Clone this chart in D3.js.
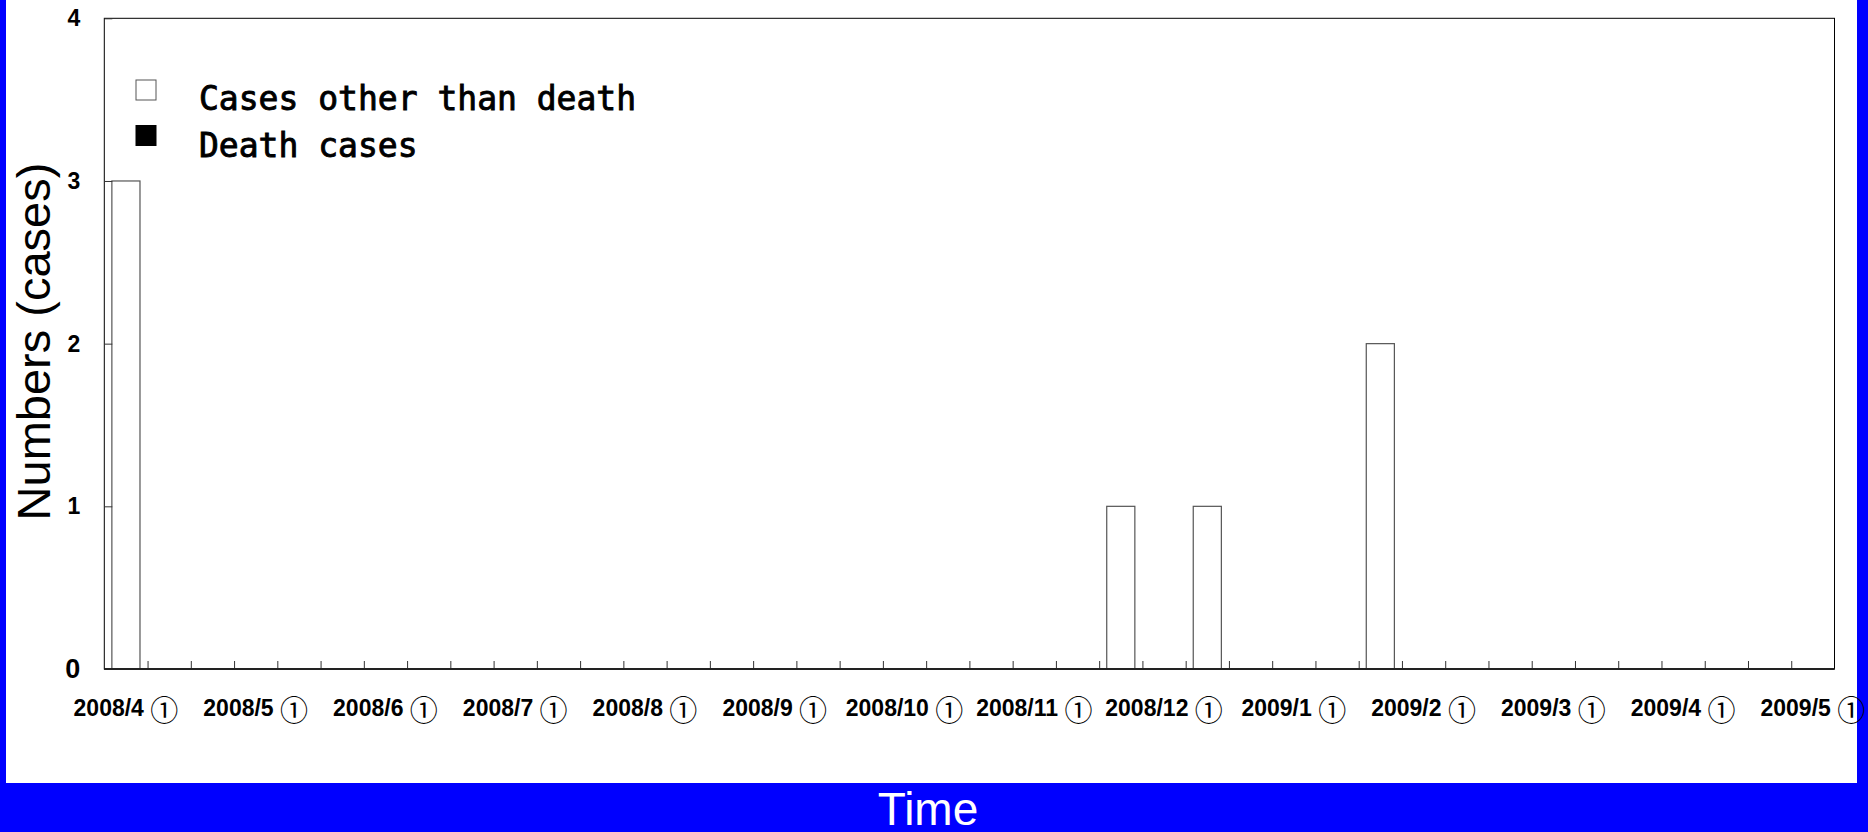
<!DOCTYPE html>
<html>
<head>
<meta charset="utf-8">
<script src="https://cdn.jsdelivr.net/npm/d3@7"></script>
<style>
  html, body { margin: 0; padding: 0; background: #0000ff; }
  svg { display: block; }
</style>
</head>
<body>
<svg id="chart" width="1868" height="832"></svg>
<script>
// Monthly periods (① early, ② middle, ③ late) from 2008/4 to 2009/5
const months = ["2008/4", "2008/5", "2008/6", "2008/7", "2008/8", "2008/9", "2008/10",
    "2008/11", "2008/12", "2009/1", "2009/2", "2009/3", "2009/4", "2009/5"];
const periods = ["①", "②", "③"];
const categories = months.flatMap(m => periods.map(p => `${m} ${p}`)).slice(0, 40);

const otherCases = [3, 0, 0, 0, 0, 0, 0, 0, 0, 0, 0, 0, 0, 0, 0, 0, 0, 0, 0, 0,
    0, 0, 0, 1, 0, 1, 0, 0, 0, 2, 0, 0, 0, 0, 0, 0, 0, 0, 0, 0];
const deathCases = [0, 0, 0, 0, 0, 0, 0, 0, 0, 0, 0, 0, 0, 0, 0, 0, 0, 0, 0, 0,
    0, 0, 0, 0, 0, 0, 0, 0, 0, 0, 0, 0, 0, 0, 0, 0, 0, 0, 0, 0];
const yTicks = [0, 1, 2, 3, 4];
const legendLabels = ["Cases other than death", "Death cases"];

const W = 1868, H = 832;
const margin = { top: 18.3, right: 33.5, bottom: 163, left: 104.3 };
const width = W - margin.left - margin.right;
const height = H - margin.top - margin.bottom;

const svg = d3.select("#chart");

// blue frame with white page
svg.append("rect").attr("width", W).attr("height", H).attr("fill", "#0000ff");
svg.append("rect").attr("x", 6).attr("y", 0).attr("width", 1851).attr("height", 783).attr("fill", "#fff");

const g = svg.append("g").attr("transform", `translate(${margin.left},${margin.top})`);

const x = d3.scaleBand().domain(categories).range([0, width]).paddingInner(0.35).paddingOuter(0.175);
const xEdge = d3.scaleLinear().domain([0, categories.length]).range([0, width]);
const y = d3.scaleLinear().domain([0, 4]).range([height, 0]);

const rows = categories.map((c, i) => ({ cat: c, death: deathCases[i], other: otherCases[i] }));

// plot frame
g.append("rect").attr("width", width).attr("height", height)
    .attr("fill", "none").attr("stroke", "#000").attr("stroke-width", 1);

// death cases (black, bottom)
g.selectAll(".bar-death").data(rows.filter(d => d.death > 0)).join("rect")
    .attr("class", "bar-death")
    .attr("x", d => x(d.cat)).attr("width", x.bandwidth())
    .attr("y", d => y(d.death)).attr("height", d => y(0) - y(d.death))
    .attr("fill", "#000");

// other cases (white, stacked on top)
g.selectAll(".bar-other").data(rows.filter(d => d.other > 0)).join("rect")
    .attr("class", "bar-other")
    .attr("x", d => x(d.cat)).attr("width", x.bandwidth())
    .attr("y", d => y(d.death + d.other)).attr("height", d => y(d.death) - y(d.death + d.other))
    .attr("fill", "#fff").attr("stroke", "#555").attr("stroke-width", 1.2);

// y axis
const yAxis = g.append("g")
    .call(d3.axisLeft(y).tickValues(yTicks).tickSize(-8).tickPadding(24).tickFormat(d3.format("d")));
yAxis.select(".domain").remove();
yAxis.selectAll("line").attr("stroke", "#333");
yAxis.selectAll("text")
    .attr("font-family", "Liberation Sans, Arial, sans-serif")
    .attr("font-weight", "bold")
    .attr("font-size", d => d === 0 ? 27 : 23)
    .attr("fill", "#000");

// x tick marks at category edges
const xTickAxis = g.append("g").attr("transform", `translate(0,${height})`)
    .call(d3.axisBottom(xEdge).tickValues(d3.range(1, categories.length)).tickSize(-8).tickFormat(""));
xTickAxis.select(".domain").remove();
xTickAxis.selectAll("line").attr("stroke", "#333");

// baseline
g.append("line").attr("x1", 0).attr("x2", width).attr("y1", height).attr("y2", height)
    .attr("stroke", "#222").attr("stroke-width", 2);

// x labels only for the first period of each month
const xLabelAxis = g.append("g").attr("transform", `translate(0,${height})`)
    .call(d3.axisBottom(x).tickValues(categories.filter(c => c.endsWith("①"))).tickSize(0));
xLabelAxis.select(".domain").remove();
xLabelAxis.selectAll("text").each(function (d) {
    const t = d3.select(this).text("").attr("y", 47).attr("dy", null).attr("fill", "#000");
    const [m, p] = d.split(" ");
    t.append("tspan").text(m + " ")
        .attr("font-family", "Liberation Sans, Arial, sans-serif")
        .attr("font-weight", "bold").attr("font-size", 23);
    t.append("tspan").text(p).attr("dy", 5)
        .attr("font-family", "Noto Sans CJK JP, DejaVu Sans, sans-serif")
        .attr("font-weight", "normal").attr("font-size", 28);
});

// legend
const legend = g.append("g");
const legendFill = ["#fff", "#000"];
legendLabels.forEach((lab, i) => {
    legend.append("rect")
        .attr("x", 136 - margin.left).attr("y", 80 + i * 45.5 - margin.top)
        .attr("width", 20).attr("height", 20)
        .attr("fill", legendFill[i]).attr("stroke", i === 0 ? "#555" : "#000");
    legend.append("text")
        .attr("x", 199 - margin.left).attr("y", 110 + i * 47 - margin.top)
        .attr("font-family", "DejaVu Sans Mono, monospace")
        .attr("font-size", 33).attr("fill", "#000")
        .attr("stroke", "#000").attr("stroke-width", 0.9)
        .text(lab);
});

// axis titles
svg.append("text")
    .attr("transform", "translate(50,341.5) rotate(-90)")
    .attr("text-anchor", "middle")
    .attr("font-family", "Liberation Sans, Arial, sans-serif")
    .attr("font-size", 47).attr("fill", "#000")
    .text("Numbers (cases)");

svg.append("text")
    .attr("x", 928).attr("y", 825)
    .attr("text-anchor", "middle")
    .attr("font-family", "Liberation Sans, Arial, sans-serif")
    .attr("font-size", 46).attr("fill", "#fff")
    .text("Time");
</script>
</body>
</html>
